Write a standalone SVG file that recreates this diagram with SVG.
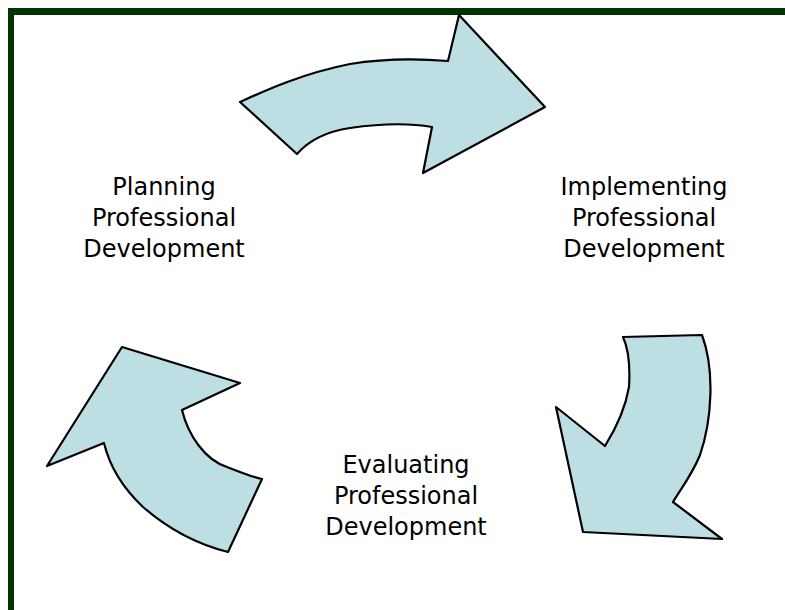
<svg xmlns="http://www.w3.org/2000/svg" width="785" height="610" viewBox="0 0 785 610">
<style>
.arrow{fill:#bddfe3;stroke:#000;stroke-width:2.2;stroke-linejoin:round}
.lbl{font-family:"DejaVu Sans","Verdana",sans-serif;font-size:24px;fill:#000;text-anchor:middle}
</style>
<rect width="785" height="610" fill="#fff"/>
<g id="frame" fill="#003300">
<rect x="8" y="8" width="777" height="7"/>
<rect x="8" y="8" width="6" height="602"/>
</g>
<g id="connectors">
<path id="arrow-top" class="arrow" d="M240,102 C262,92 300,74 350,64 C375,60 410,58 448,61 L459,15 L545,107 L423,173 L432,127 C415,124 385,123 350,128 C330,131 310,139 297,154 Z"/>
<path id="arrow-right" class="arrow" d="M623,337 L702,335 C715,370 712,420 700,455 C692,475 680,490 673,502 L722,539 L583,532 L556,407 L605,446 C615,430 625,410 629,387 C630,370 629,350 623,337 Z"/>
<path id="arrow-left" class="arrow" d="M122,347 L240,383 L182,410 C188,435 205,460 227,467 C240,472 252,477 262,479 L228,552 C200,545 173,533 143,507 C125,490 110,468 104,443 L47,466 Z"/>
</g>
<g id="node-planning">
<text class="lbl" x="164" y="195">Planning</text>
<text class="lbl" x="164" y="226">Professional</text>
<text class="lbl" x="164" y="257">Development</text>
</g>
<g id="node-implementing">
<text class="lbl" x="644" y="195">Implementing</text>
<text class="lbl" x="644" y="226">Professional</text>
<text class="lbl" x="644" y="257">Development</text>
</g>
<g id="node-evaluating">
<text class="lbl" x="406" y="473">Evaluating</text>
<text class="lbl" x="406" y="504">Professional</text>
<text class="lbl" x="406" y="535">Development</text>
</g>
</svg>
